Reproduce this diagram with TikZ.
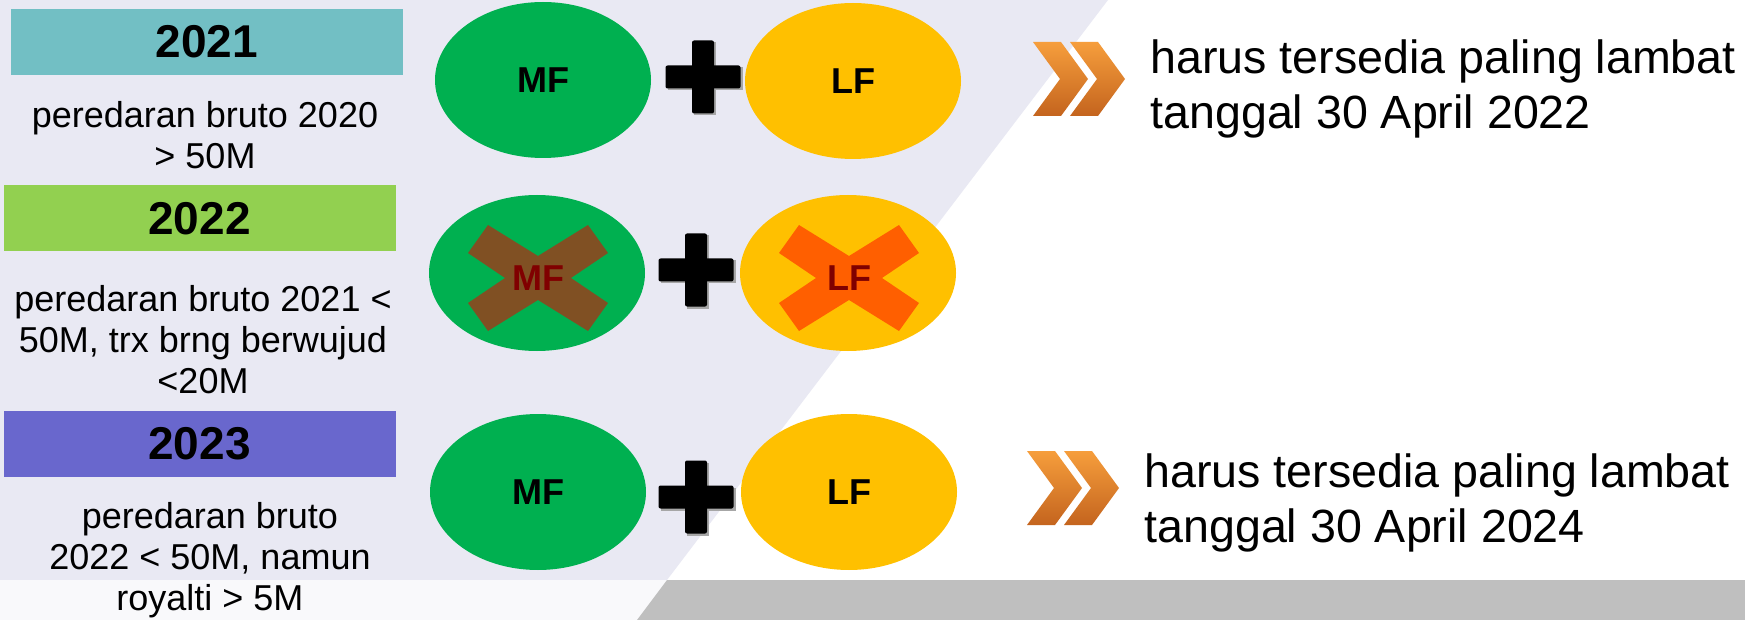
\documentclass[tikz,border=0pt]{standalone}
\usepackage{fontspec}
\setmainfont{Liberation Sans}
\usetikzlibrary{shapes.geometric}
\definecolor{lav}{RGB}{233,233,243}
\definecolor{offwhite}{RGB}{249,249,251}
\definecolor{barg}{RGB}{191,191,191}
\definecolor{tealbox}{RGB}{114,191,196}
\definecolor{greenbox}{RGB}{146,208,80}
\definecolor{bluebox}{RGB}{105,103,205}
\definecolor{mfgreen}{RGB}{0,176,80}
\definecolor{lfyellow}{RGB}{255,192,0}
\definecolor{xbrown}{RGB}{128,80,35}
\definecolor{xorange}{RGB}{255,95,0}
\definecolor{darkred}{RGB}{128,0,0}
\definecolor{chevlight}{RGB}{246,158,60}
\definecolor{chevdark}{RGB}{196,100,30}
% X mark around a named coordinate, offsets in picture units (px, y down)
\newcommand{\crossshape}[2]{%
  \fill[#2]
    ([shift={(-70,-25)}]#1) -- ([shift={(-50,-53)}]#1) -- ([shift={(0,-22)}]#1)
    -- ([shift={(50,-53)}]#1) -- ([shift={(70,-25)}]#1) -- ([shift={(33,0)}]#1)
    -- ([shift={(70,25)}]#1) -- ([shift={(50,53)}]#1) -- ([shift={(0,22)}]#1)
    -- ([shift={(-50,53)}]#1) -- ([shift={(-70,25)}]#1) -- ([shift={(-33,0)}]#1) -- cycle;}
\newcommand{\plusmark}[1]{%
  \fill[black!35] ([shift={(-35.5,-9.5)}]#1) rectangle ([shift={(39.5,13.5)}]#1);
  \fill[black!35] ([shift={(-9,-34.5)}]#1) rectangle ([shift={(13,38.5)}]#1);
  \fill[black, rounded corners=1pt] ([shift={(-37.5,-11.5)}]#1) rectangle ([shift={(37.5,11.5)}]#1);
  \fill[black, rounded corners=1pt] ([shift={(-11,-36.5)}]#1) rectangle ([shift={(11,36.5)}]#1);}
\newcommand{\chevpair}[1]{%
  \foreach \dx in {0,37}{%
    \shade[top color=chevlight, bottom color=chevdark]
      ([shift={(\dx,0)}]#1) -- ([shift={(\dx+28,0)}]#1) -- ([shift={(\dx+55,37)}]#1)
      -- ([shift={(\dx+28,74)}]#1) -- ([shift={(\dx,74)}]#1) -- ([shift={(\dx+27,37)}]#1) -- cycle;}}
\begin{document}
\begin{tikzpicture}[x=0.5pt,y=-0.5pt,
  yearbox/.style={rectangle, inner sep=0pt, minimum width=196pt, minimum height=33pt,
    font=\fontsize{23}{27}\selectfont\bfseries},
  bodytext/.style={align=center, inner sep=0pt, font=\fontsize{18}{20.5}\selectfont},
  ell/.style={ellipse, inner sep=0pt, minimum width=108pt, minimum height=78pt,
    font=\fontsize{18}{20}\selectfont\bfseries},
  mf/.style={ell, fill=mfgreen},
  lf/.style={ell, fill=lfyellow},
  crosslabel/.style={inner sep=0pt, text=darkred, font=\fontsize{18}{20}\selectfont\bfseries},
  righttext/.style={align=left, anchor=west, inner sep=0pt, font=\fontsize{23.3}{27.5}\selectfont}]
% background
\fill[white] (0,0) rectangle (1745,620);
\useasboundingbox (0,0) rectangle (1745,620);
\fill[lav] (0,0) -- (1108,0) -- (667,580) -- (0,580) -- cycle;
\fill[offwhite] (0,580) -- (667,580) -- (637,620) -- (0,620) -- cycle;
\fill[barg] (667,580) -- (1745,580) -- (1745,620) -- (637,620) -- cycle;
% year boxes
\node[yearbox, fill=tealbox] (y21) at (207,42) {\raisebox{-2pt}{2021}};
\node[yearbox, fill=greenbox] (y22) at (199.5,218.5) {\raisebox{-2pt}{2022}};
\node[yearbox, fill=bluebox] (y23) at (199.5,444) {\raisebox{-2.5pt}{2023}};
% conditions
\node[bodytext] (c21) at (205,135) {peredaran bruto 2020\\> 50M};
\node[bodytext] (c22) at (203,340) {peredaran bruto 2021 <\\50M, trx brng berwujud\\<20M};
\node[bodytext] (c23) at (210,560) {peredaran bruto\\2022 < 50M, namun\\royalti > 5M};
% row 1
\node[mf] (mf1) at (543,80) {MF};
\node[lf] (lf1) at (853,81) {LF};
\coordinate (p1) at (703,77);
\plusmark{p1}
% row 2
\node[mf] (mf2) at (537,273) {};
\node[lf] (lf2) at (848,273) {};
\coordinate (x2m) at (538,278);
\coordinate (x2l) at (849,278);
\crossshape{x2m}{xbrown}
\crossshape{x2l}{xorange}
\node[crosslabel] (mf2t) at (x2m) {MF};
\node[crosslabel] (lf2t) at (x2l) {LF};
\coordinate (p2) at (696,270);
\plusmark{p2}
% row 3
\node[mf] (mf3) at (538,492) {MF};
\node[lf] (lf3) at (849,492) {LF};
\coordinate (p3) at (696,497);
\plusmark{p3}
% chevrons
\coordinate (ch1) at (1033,42);
\chevpair{ch1}
\coordinate (ch2) at (1027,451);
\chevpair{ch2}
% right texts
\node[righttext] (r1) at (1150,89) {harus tersedia paling lambat\\tanggal 30 April 2022};
\node[righttext] (r2) at (1144,503) {harus tersedia paling lambat\\tanggal 30 April 2024};
\end{tikzpicture}
\end{document}
